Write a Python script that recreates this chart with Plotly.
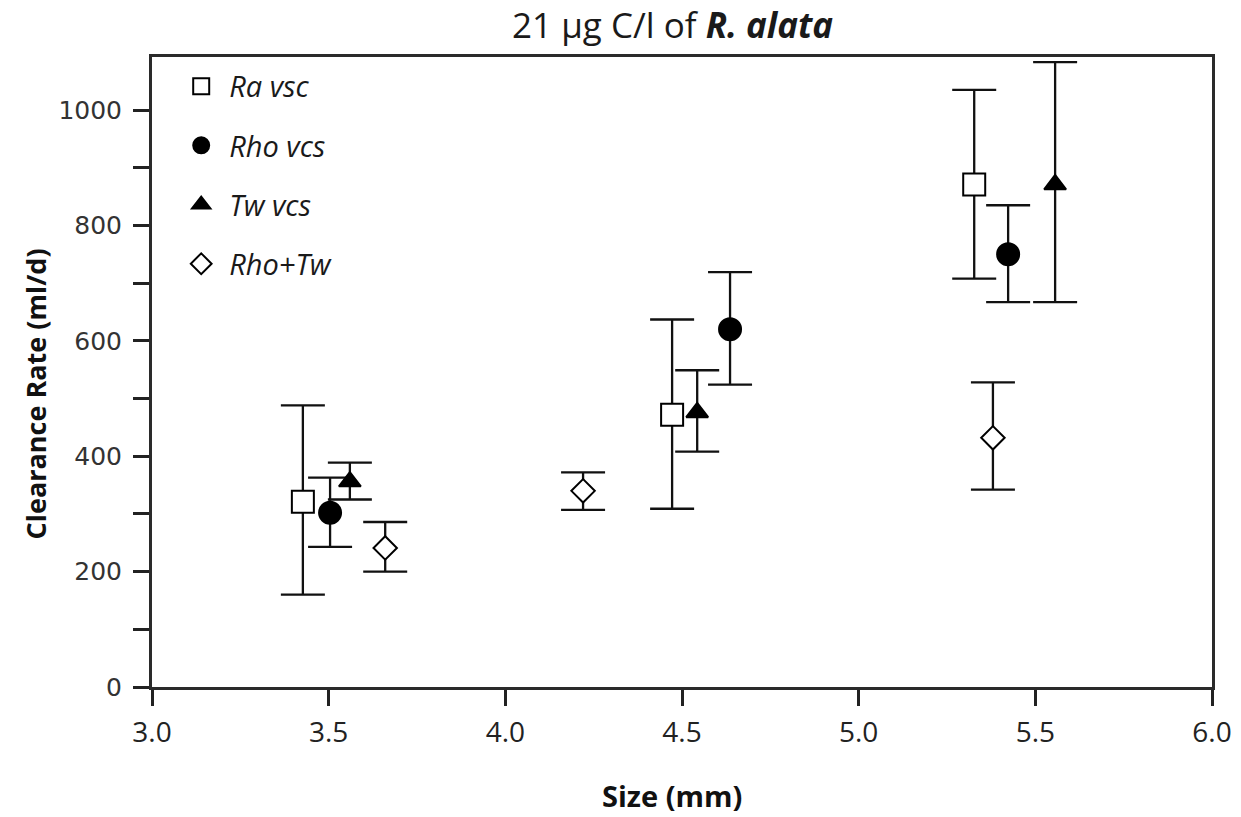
import plotly.graph_objects as go

# Data
ra_x = [3.427, 4.472, 5.327]
ra_y = [321, 472, 871]
ra_hi = [488, 637, 1035]
ra_lo = [160, 309, 708]

rho_x = [3.504, 4.636, 5.423]
rho_y = [302, 620, 750]
rho_hi = [363, 719, 835]
rho_lo = [243, 524, 667]

tw_x = [3.560, 4.543, 5.556]
tw_y = [356, 476, 871]
tw_hi = [389, 549, 1083]
tw_lo = [325, 408, 667]

rt_x = [3.660, 4.220, 5.380]
rt_y = [241, 340, 432]
rt_hi = [286, 372, 528]
rt_lo = [200, 307, 342]

series = [
    ("Ra vsc", ra_x, ra_y, ra_hi, ra_lo, "square", "white", 22),
    ("Rho vcs", rho_x, rho_y, rho_hi, rho_lo, "circle", "black", 22),
    ("Tw vcs", tw_x, tw_y, tw_hi, tw_lo, "triangle-up", "black", 19),
    ("Rho+Tw", rt_x, rt_y, rt_hi, rt_lo, "diamond", "white", 18),
]

sans = "Open Sans, Noto Sans, sans-serif"

fig = go.Figure()
for i, (name, xs, ys, hi, lo, sym, fill, size) in enumerate(series):
    fig.add_trace(go.Scatter(
        x=xs, y=ys, mode="markers", name=f"<i>{name}</i>", legendgroup=name,
        marker=dict(symbol=sym, size=size, color=fill,
                    line=dict(color="black", width=2)),
        error_y=dict(type="data", symmetric=False,
                     array=[h - v for h, v in zip(hi, ys)],
                     arrayminus=[v - l for v, l in zip(ys, lo)],
                     color="#111", thickness=2.3, width=22),
    ))

fig.update_layout(
    width=1241, height=817,
    margin=dict(l=152, r=29, t=57, b=130, autoexpand=False),
    paper_bgcolor="white", plot_bgcolor="white",
    title=dict(text="21 μg C/l of <b><i>R. alata</i></b>", x=0.542, xanchor="center",
               yref="container", y=0.969, yanchor="middle",
               font=dict(family=sans, size=35, color="#1a1a1a")),
    showlegend=True,
    legend=dict(x=0.02, y=0.994, xanchor="left", yanchor="top",
                bgcolor="rgba(0,0,0,0)", tracegroupgap=18.5,
                font=dict(family=sans, size=29, color="#1a1a1a"),
                itemwidth=46),
    xaxis=dict(range=[3.0, 6.0], tickvals=[3.0, 3.5, 4.0, 4.5, 5.0, 5.5, 6.0],
               ticktext=["3.0", "3.5", "4.0", "4.5", "5.0", "5.5", "6.0"],
               automargin=False,
               ticks="outside", ticklen=16, tickwidth=2.5, tickcolor="#222",
               ticklabelstandoff=2,
               showline=True, linewidth=3, linecolor="#2a2a2a", mirror=True,
               showgrid=False, zeroline=False,
               tickfont=dict(family=sans, size=28, color="#222")),
    yaxis=dict(range=[0, 1092], tickvals=[0, 200, 400, 600, 800, 1000],
               automargin=False,
               ticks="outside", ticklen=16, tickwidth=2.5, tickcolor="#222",
               ticklabelstandoff=6,
               minor=dict(dtick=100, ticks="outside", ticklen=16, tickwidth=2.5, tickcolor="#222"),
               showline=True, linewidth=3, linecolor="#2a2a2a", mirror=True,
               showgrid=False, zeroline=False,
               tickfont=dict(family="DejaVu Sans, Verdana, sans-serif", size=25, color="#333")),
    annotations=[
        dict(text="<b>Size (mm)</b>", xref="paper", yref="paper", x=0.4906, y=-0.1730,
             xanchor="center", yanchor="middle", showarrow=False,
             font=dict(family=sans, size=29, color="#111")),
        dict(text="<b>Clearance Rate (ml/d)</b>", xref="paper", yref="paper", x=-0.110, y=0.465,
             xanchor="center", yanchor="middle", showarrow=False, textangle=-90,
             font=dict(family=sans, size=27, color="#111")),
    ],
)

fig.write_html("out.html", config={"displayModeBar": False},
               post_script="document.body.style.margin='0';")
